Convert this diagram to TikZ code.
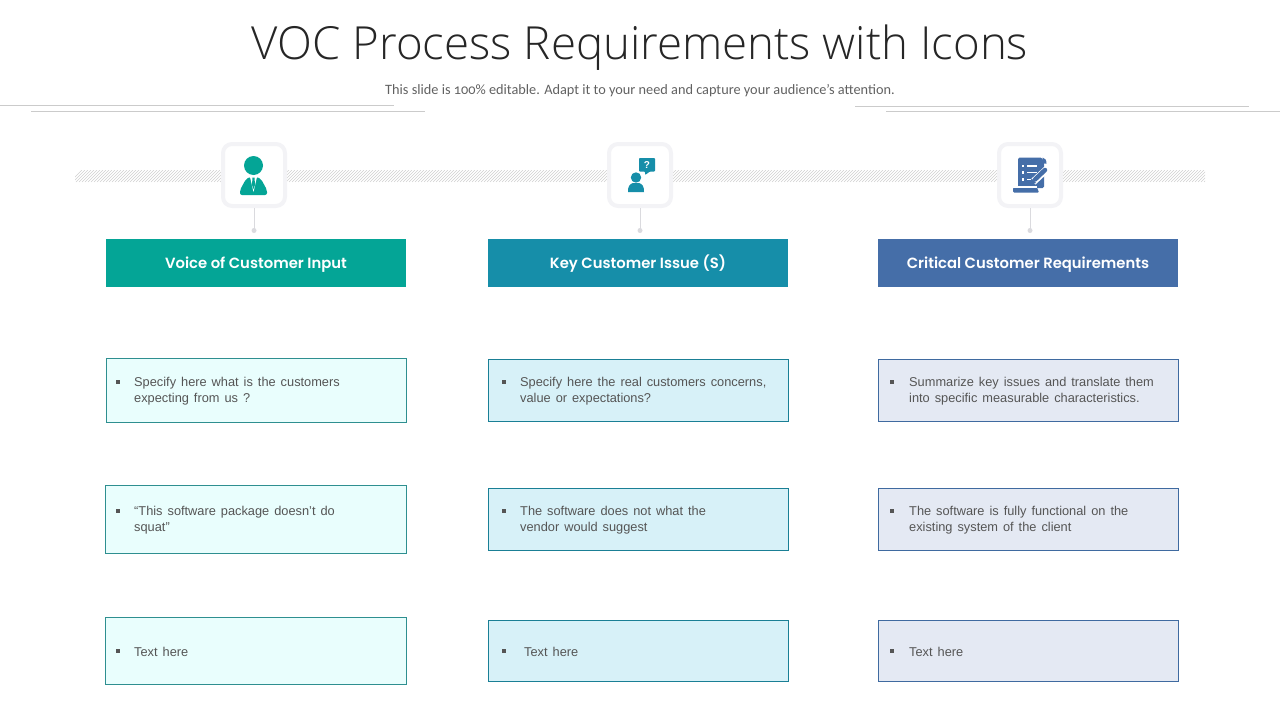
\documentclass[tikz,border=0pt]{standalone}
\usepackage{fontspec}
\setmainfont{Liberation Sans}[WordSpace=1.4]
\newfontfamily\titlefont{Open Sans Light}
\newfontfamily\subfont{Carlito}[Numbers=OldStyle]
\newfontfamily\headfont{Poppins SemiBold}
\definecolor{cgreen}{HTML}{04A596}
\definecolor{cteal}{HTML}{168EA9}
\definecolor{cblue}{HTML}{456EA8}
\definecolor{lgreen}{HTML}{E9FEFD}
\definecolor{lteal}{HTML}{D7F1F8}
\definecolor{lblue}{HTML}{E4E9F3}
\definecolor{bgreen}{HTML}{2E8F90}
\definecolor{bteal}{HTML}{1A7F95}
\definecolor{bblue}{HTML}{3F6AA0}
\definecolor{rulegray}{HTML}{CBCBCB}
\definecolor{hatchgray}{HTML}{CFCFCF}
\definecolor{framegray}{HTML}{F3F3F6}
\definecolor{stemgray}{HTML}{DADADE}
\definecolor{bodygray}{HTML}{555555}
\tikzset{
  x=1pt,y=-1pt,
  header/.style={rectangle,minimum width=300pt,minimum height=48pt,inner sep=0pt,text height=11pt,text depth=0pt,text=white,font=\headfont\fontsize{14.8}{18}\selectfont},
  bodybox/.style={rectangle,draw=#1,line width=1pt,inner sep=0pt},
  bodytext/.style={anchor=west,align=left,inner sep=0pt,text=bodygray,font=\fontsize{12.8}{16}\selectfont},
  bul/.style={rectangle,fill=bodygray,minimum size=3.5pt,inner sep=0pt},
  iconbox/.style={rectangle,rounded corners=9pt,draw=framegray,line width=4pt,fill=white,minimum size=62pt,inner sep=0pt},
  stem/.style={draw=stemgray,line width=1pt},
  stemdot/.style={circle,fill=stemgray,minimum size=5pt,inner sep=0pt},
  rulel/.style={draw=rulegray,line width=0.8pt},
  hatchl/.style={draw=hatchgray,line width=0.6pt}
}
\newcommand{\bodybox}[7]{% name, left, top, right, bottom, fill, border
  \node[bodybox=#7,fill=#6,minimum width={#4-#2},minimum height={#5-#3}] (#1) at ({(#2+#4)/2},{(#3+#5)/2}) {};
}
\begin{document}
\begin{tikzpicture}
\useasboundingbox (0,0) rectangle (1280,720);
% title
\node[text=black!85,font=\titlefont\fontsize{45.6}{50}\selectfont,inner sep=0pt] (title) at (640,48) {VOC Process Requirements with Icons};
\node[text=black!62,font=\subfont\fontsize{14.3}{18}\selectfont,inner sep=0pt] (subtitle) at (640,91) {This slide is 100\% editable. Adapt it to your need and capture your audience’s attention.};
% rules
\draw[rulel] (0,105.5) -- (394,105.5);
\draw[rulel] (31,111.5) -- (425,111.5);
\draw[rulel] (855,106.5) -- (1249,106.5);
\draw[rulel] (886,111.5) -- (1280,111.5);
% hatched band
\begin{scope}
\clip (75,170) rectangle (1205,182);
\foreach \i in {0,3,...,1146} {
  \draw[hatchl] ({70+\i},182) -- ({82+\i},170);
}
\end{scope}
% icon boxes and stems
\foreach \n/\cx in {a/254,b/640,c/1030} {
  \node[iconbox] (icon\n) at (\cx,175) {};
  \node[stemdot] (dot\n) at (\cx,230.5) {};
  \draw[stem] (icon\n.south) -- (dot\n.center);
}
% icon 1: person with tie
\fill[cgreen] (253.5,165.5) circle (9.5);
\fill[cgreen,rounded corners=2pt] (240,195) -- (240,190) -- (246,179) -- (250,177) -- (257,177) -- (261,179) -- (267,190) -- (267,195) -- cycle;
\fill[white] (250,177) -- (257,177) -- (253.5,192) -- cycle;
\fill[cgreen] (252.5,177.5) -- (254.5,177.5) -- (255,185) -- (253.5,189) -- (252,185) -- cycle;
% icon 2: person with speech bubble
\fill[cteal] (636,177.5) circle (5.2);
\fill[cteal] (628,192) .. controls (627.5,187) and (630,183.5) .. (633,183) -- (639,183) .. controls (642,183.5) and (644.5,187) .. (644,192) -- cycle;
\fill[cteal,rounded corners=0.8pt] (639,158) -- (655,158) -- (655,171.5) -- (650,171.5) -- (645,175) -- (645,171.5) -- (639,171.5) -- cycle;
\node[text=white,font=\bfseries\fontsize{10}{10}\selectfont,inner sep=0pt] (qmark) at (647,165) {?};
% icon 3: scroll with pen
\fill[cblue,rounded corners=1.5pt] (1018,157.5) -- (1042,157.5) -- (1044,163) -- (1044,172) -- (1044,188) -- (1018,188) -- cycle;
\fill[cblue] (1042.5,157.5) .. controls (1045,158) and (1046.5,160) .. (1046.5,163.5) -- (1042.5,163.5) -- cycle;
\fill[cblue,rounded corners=1pt] (1013,187.5) -- (1037,187.5) -- (1039,192.5) -- (1013,192.5) -- cycle;
\fill[white] (1012,186.3) -- (1037,186.3) -- (1037,187.5) -- (1012,187.5) -- cycle;
\foreach \y in {166,172.5,179.5} {
  \fill[white] (1021.5,\y-1.2) rectangle (1023.5,\y+1.2);
  \fill[white] (1026.5,\y-0.9) rectangle (1037,\y+0.9);
}
\draw[white,line width=7pt] (1033,182) -- (1047,169);
\draw[cblue,line width=4.5pt,line cap=round] (1035,179.5) -- (1045,170);
\fill[cblue] (1029.5,185) -- (1031.5,178.5) -- (1036,183) -- cycle;
% headers
\node[header,fill=cgreen] (h1) at (256,263) {Voice of Customer Input};
\node[header,fill=cteal] (h2) at (638,263) {Key Customer Issue (S)};
\node[header,fill=cblue] (h3) at (1028,263) {Critical Customer Requirements};
% body boxes
\bodybox{a1}{106.5}{358.5}{406.5}{422.5}{lgreen}{bgreen}
\bodybox{a2}{105.5}{485.5}{406.5}{553.5}{lgreen}{bgreen}
\bodybox{a3}{105.5}{617.5}{406.5}{684.5}{lgreen}{bgreen}
\bodybox{b1}{488.5}{359.5}{788.5}{421.5}{lteal}{bteal}
\bodybox{b2}{488.5}{488.5}{788.5}{550.5}{lteal}{bteal}
\bodybox{b3}{488.5}{620.5}{788.5}{681.5}{lteal}{bteal}
\bodybox{c1}{878.5}{359.5}{1178.5}{421.5}{lblue}{bblue}
\bodybox{c2}{878.5}{488.5}{1178.5}{550.5}{lblue}{bblue}
\bodybox{c3}{878.5}{620.5}{1178.5}{681.5}{lblue}{bblue}
% bullets
\foreach \n/\x/\y in {pa1/118/382,pa2/118/511,pa3/118/651,pb1/504/382,pb2/504/511,pb3/504/651,pc1/892/382,pc2/892/511,pc3/892/651} {
  \node[bul] (\n) at (\x,\y) {};
}
% texts
\node[bodytext] (ta1) at (134,391) {Specify here what is the customers\\expecting from us ?};
\node[bodytext] (ta2) at (134,520) {“This software package doesn’t do\\squat”};
\node[bodytext] (ta3) at (134,651.5) {Text here};
\node[bodytext] (tb1) at (520,391) {Specify here the real customers concerns,\\value or expectations?};
\node[bodytext] (tb2) at (520,520) {The software does not what the\\vendor would suggest};
\node[bodytext] (tb3) at (524,651.5) {Text here};
\node[bodytext] (tc1) at (909,391) {Summarize key issues and translate them\\into specific measurable characteristics.};
\node[bodytext] (tc2) at (909,520) {The software is fully functional on the\\existing system of the client};
\node[bodytext] (tc3) at (909,651.5) {Text here};
\end{tikzpicture}
\end{document}
